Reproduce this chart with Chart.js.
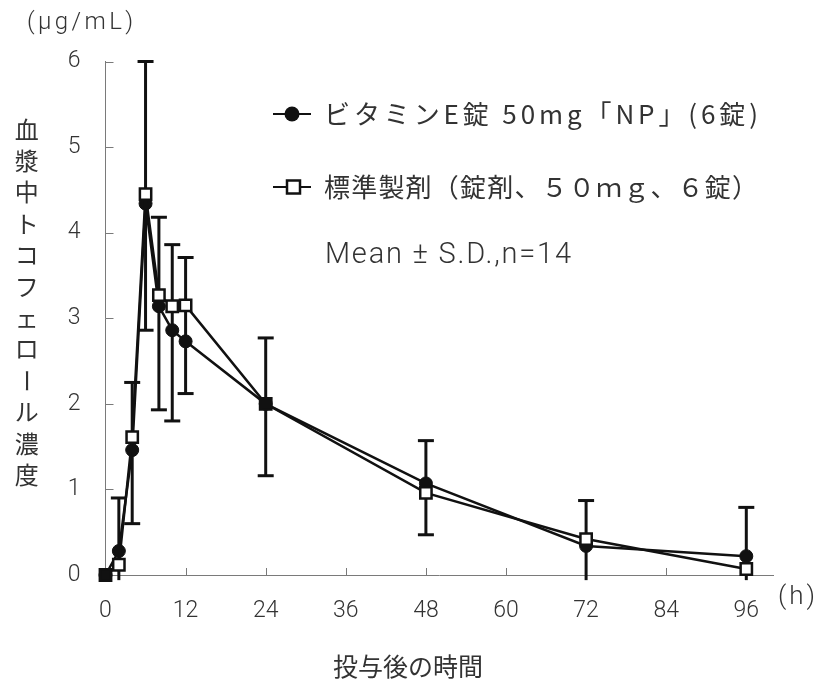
<!DOCTYPE html>
<html><head><meta charset="utf-8">
<script src="https://cdn.jsdelivr.net/npm/chart.js@4"></script>
<style>html,body{margin:0;padding:0;background:#fff}canvas{display:block}</style>
</head><body>
<canvas id="c" width="818" height="682"></canvas>
<script>
// ---- data ----
const times   = [0, 2, 4, 6, 8, 10, 12, 24, 48, 72, 96];
const npMean  = [0, 0.28, 1.46, 4.34, 3.14, 2.86, 2.73, 2.00, 1.07, 0.34, 0.22];
const stdMean = [0, 0.12, 1.61, 4.45, 3.27, 3.14, 3.15, 2.00, 0.96, 0.42, 0.07];
const errHigh = [null, 0.90, 2.25, 6.00, 4.18, 3.86, 3.71, 2.77, 1.57, 0.87, 0.79];
const errLow  = [null, -0.06, 0.60, 2.86, 1.93, 1.80, 2.12, 1.16, 0.47, -0.06, -0.06];
const xTicks  = [0, 12, 24, 36, 48, 60, 72, 84, 96];
const yTicks  = [0, 1, 2, 3, 4, 5, 6];
const seriesNames = ['ビタミンE錠 50mg「NP」(6錠)', '標準製剤（錠剤、５０ｍｇ、６錠）'];
const noteText = 'Mean ± S.D.,n=14';
const xTitle = '投与後の時間';
const yTitle = '血漿中トコフェロール濃度';
const yUnit = '(μg/mL)';
const xUnit = '(h)';

const INK = '#111';
const TXT = '#333';
const AX = '#7a7a7a';
const JP = "'Noto Sans CJK JP', sans-serif";
const NUM = "Roboto, 'Liberation Sans', sans-serif";

const pts = arr => times.map((t, i) => ({x: t, y: arr[i]}));

function fitText(ctx, str, x, y, width) {
  ctx.letterSpacing = '0px';
  const w = ctx.measureText(str).width;
  const n = [...str].length;
  ctx.letterSpacing = ((width - w) / Math.max(1, n - 1)) + 'px';
  ctx.fillText(str, x, y);
  ctx.letterSpacing = '0px';
}

const decor = {
  id: 'decor',
  beforeDatasetsDraw(chart) {
    const {ctx, scales: {x, y}} = chart;
    ctx.save();
    ctx.strokeStyle = AX; ctx.lineWidth = 1;
    yTicks.forEach(v => { if (v === 0) return;
      const py = Math.round(y.getPixelForValue(v)) + 0.5;
      ctx.beginPath(); ctx.moveTo(x.left, py); ctx.lineTo(x.left + 8, py); ctx.stroke(); });
    xTicks.forEach(v => { if (v === 0) return;
      const px = Math.round(x.getPixelForValue(v)) + 0.5;
      ctx.beginPath(); ctx.moveTo(px, y.bottom); ctx.lineTo(px, y.bottom - 7); ctx.stroke(); });
    ctx.strokeStyle = INK; ctx.lineWidth = 3;
    times.forEach((t, i) => {
      if (errHigh[i] === null) return;
      const px = x.getPixelForValue(t);
      const hi = y.getPixelForValue(errHigh[i]);
      const lo = y.getPixelForValue(errLow[i]);
      ctx.beginPath(); ctx.moveTo(px, hi); ctx.lineTo(px, lo); ctx.stroke();
      [errHigh[i], errLow[i]].forEach(v => {
        if (v < 0) return;
        const py = y.getPixelForValue(v);
        ctx.beginPath(); ctx.moveTo(px - 8, py); ctx.lineTo(px + 8, py); ctx.stroke();
      });
    });
    ctx.restore();
  },
  afterDraw(chart) {
    const {ctx} = chart;
    ctx.save();
    ctx.fillStyle = TXT;
    ctx.textBaseline = 'middle';
    ctx.textAlign = 'center';
    ctx.font = `24px ${JP}`;
    [...yTitle].forEach((ch, i) => {
      const cy = 129.5 + i * 31.4;
      if (ch === 'ー') {
        ctx.save(); ctx.translate(26.7, cy); ctx.rotate(Math.PI / 2); ctx.fillText(ch, 0, 0); ctx.restore();
      } else ctx.fillText(ch, 26.7, cy);
    });
    ctx.font = `25px ${JP}`;
    ctx.fillText(xTitle, 408, 666);
    ctx.textAlign = 'left';
    ctx.font = `300 24px ${NUM}`;
    fitText(ctx, yUnit, 27, 23, 106);
    ctx.font = `300 26px ${NUM}`;
    fitText(ctx, xUnit, 778, 597, 37);
    // legend
    const rows = [114, 187];
    ctx.strokeStyle = INK; ctx.lineWidth = 2;
    rows.forEach(ry => { ctx.beginPath(); ctx.moveTo(273, ry); ctx.lineTo(311, ry); ctx.stroke(); });
    ctx.fillStyle = INK;
    ctx.beginPath(); ctx.arc(292, rows[0], 7.5, 0, Math.PI * 2); ctx.fill();
    ctx.fillStyle = '#fff'; ctx.lineWidth = 2.5;
    ctx.fillRect(287, rows[1] - 6.5, 13, 13); ctx.strokeRect(287, rows[1] - 6.5, 13, 13);
    ctx.fillStyle = TXT;
    ctx.font = `26px ${JP}`;
    fitText(ctx, seriesNames[0], 324, rows[0], 434);
    fitText(ctx, seriesNames[1], 324, rows[1], 434);
    ctx.font = `300 29px ${NUM}`;
    fitText(ctx, noteText, 325, 256, 246);
    ctx.restore();
  }
};

new Chart(document.getElementById('c'), {
  type: 'line',
  data: {
    datasets: [
      {
        label: seriesNames[1], data: pts(stdMean), order: 0, clip: false,
        borderColor: INK, borderWidth: 2.5, tension: 0, fill: false,
        pointStyle: 'rect', pointRadius: 8, pointBorderWidth: 2.5, pointBorderColor: INK,
        pointBackgroundColor: c => (c.raw && c.raw.y === npMean[c.dataIndex] ? INK : '#fff')
      },
      {
        label: seriesNames[0], data: pts(npMean), order: 1, clip: false,
        borderColor: INK, borderWidth: 2.5, tension: 0, fill: false,
        pointStyle: 'circle', pointRadius: 6.5, pointBorderWidth: 1, pointBorderColor: INK,
        pointBackgroundColor: INK
      }
    ]
  },
  options: {
    responsive: false, animation: false, devicePixelRatio: 1,
    layout: {padding: {top: 61.5, right: 45, left: 0, bottom: 0}},
    plugins: {legend: {display: false}, tooltip: {enabled: false}},
    scales: {
      x: {
        type: 'linear', min: 0, max: 100,
        afterBuildTicks: s => { s.ticks = xTicks.map(v => ({value: v})); },
        afterFit: s => { s.height = 107; },
        grid: {display: false, drawTicks: false},
        border: {display: true, color: AX, width: 1},
        ticks: {padding: 22, color: TXT, font: {family: NUM, size: 23, weight: 300}}
      },
      y: {
        min: 0, max: 6,
        afterBuildTicks: s => { s.ticks = yTicks.map(v => ({value: v})); },
        afterFit: s => { s.width = 105.5; },
        grid: {display: false, drawTicks: false},
        border: {display: true, color: AX, width: 1},
        ticks: {padding: 25, color: TXT, font: {family: NUM, size: 23, weight: 300}}
      }
    }
  },
  plugins: [decor]
});
</script>
</body></html>
